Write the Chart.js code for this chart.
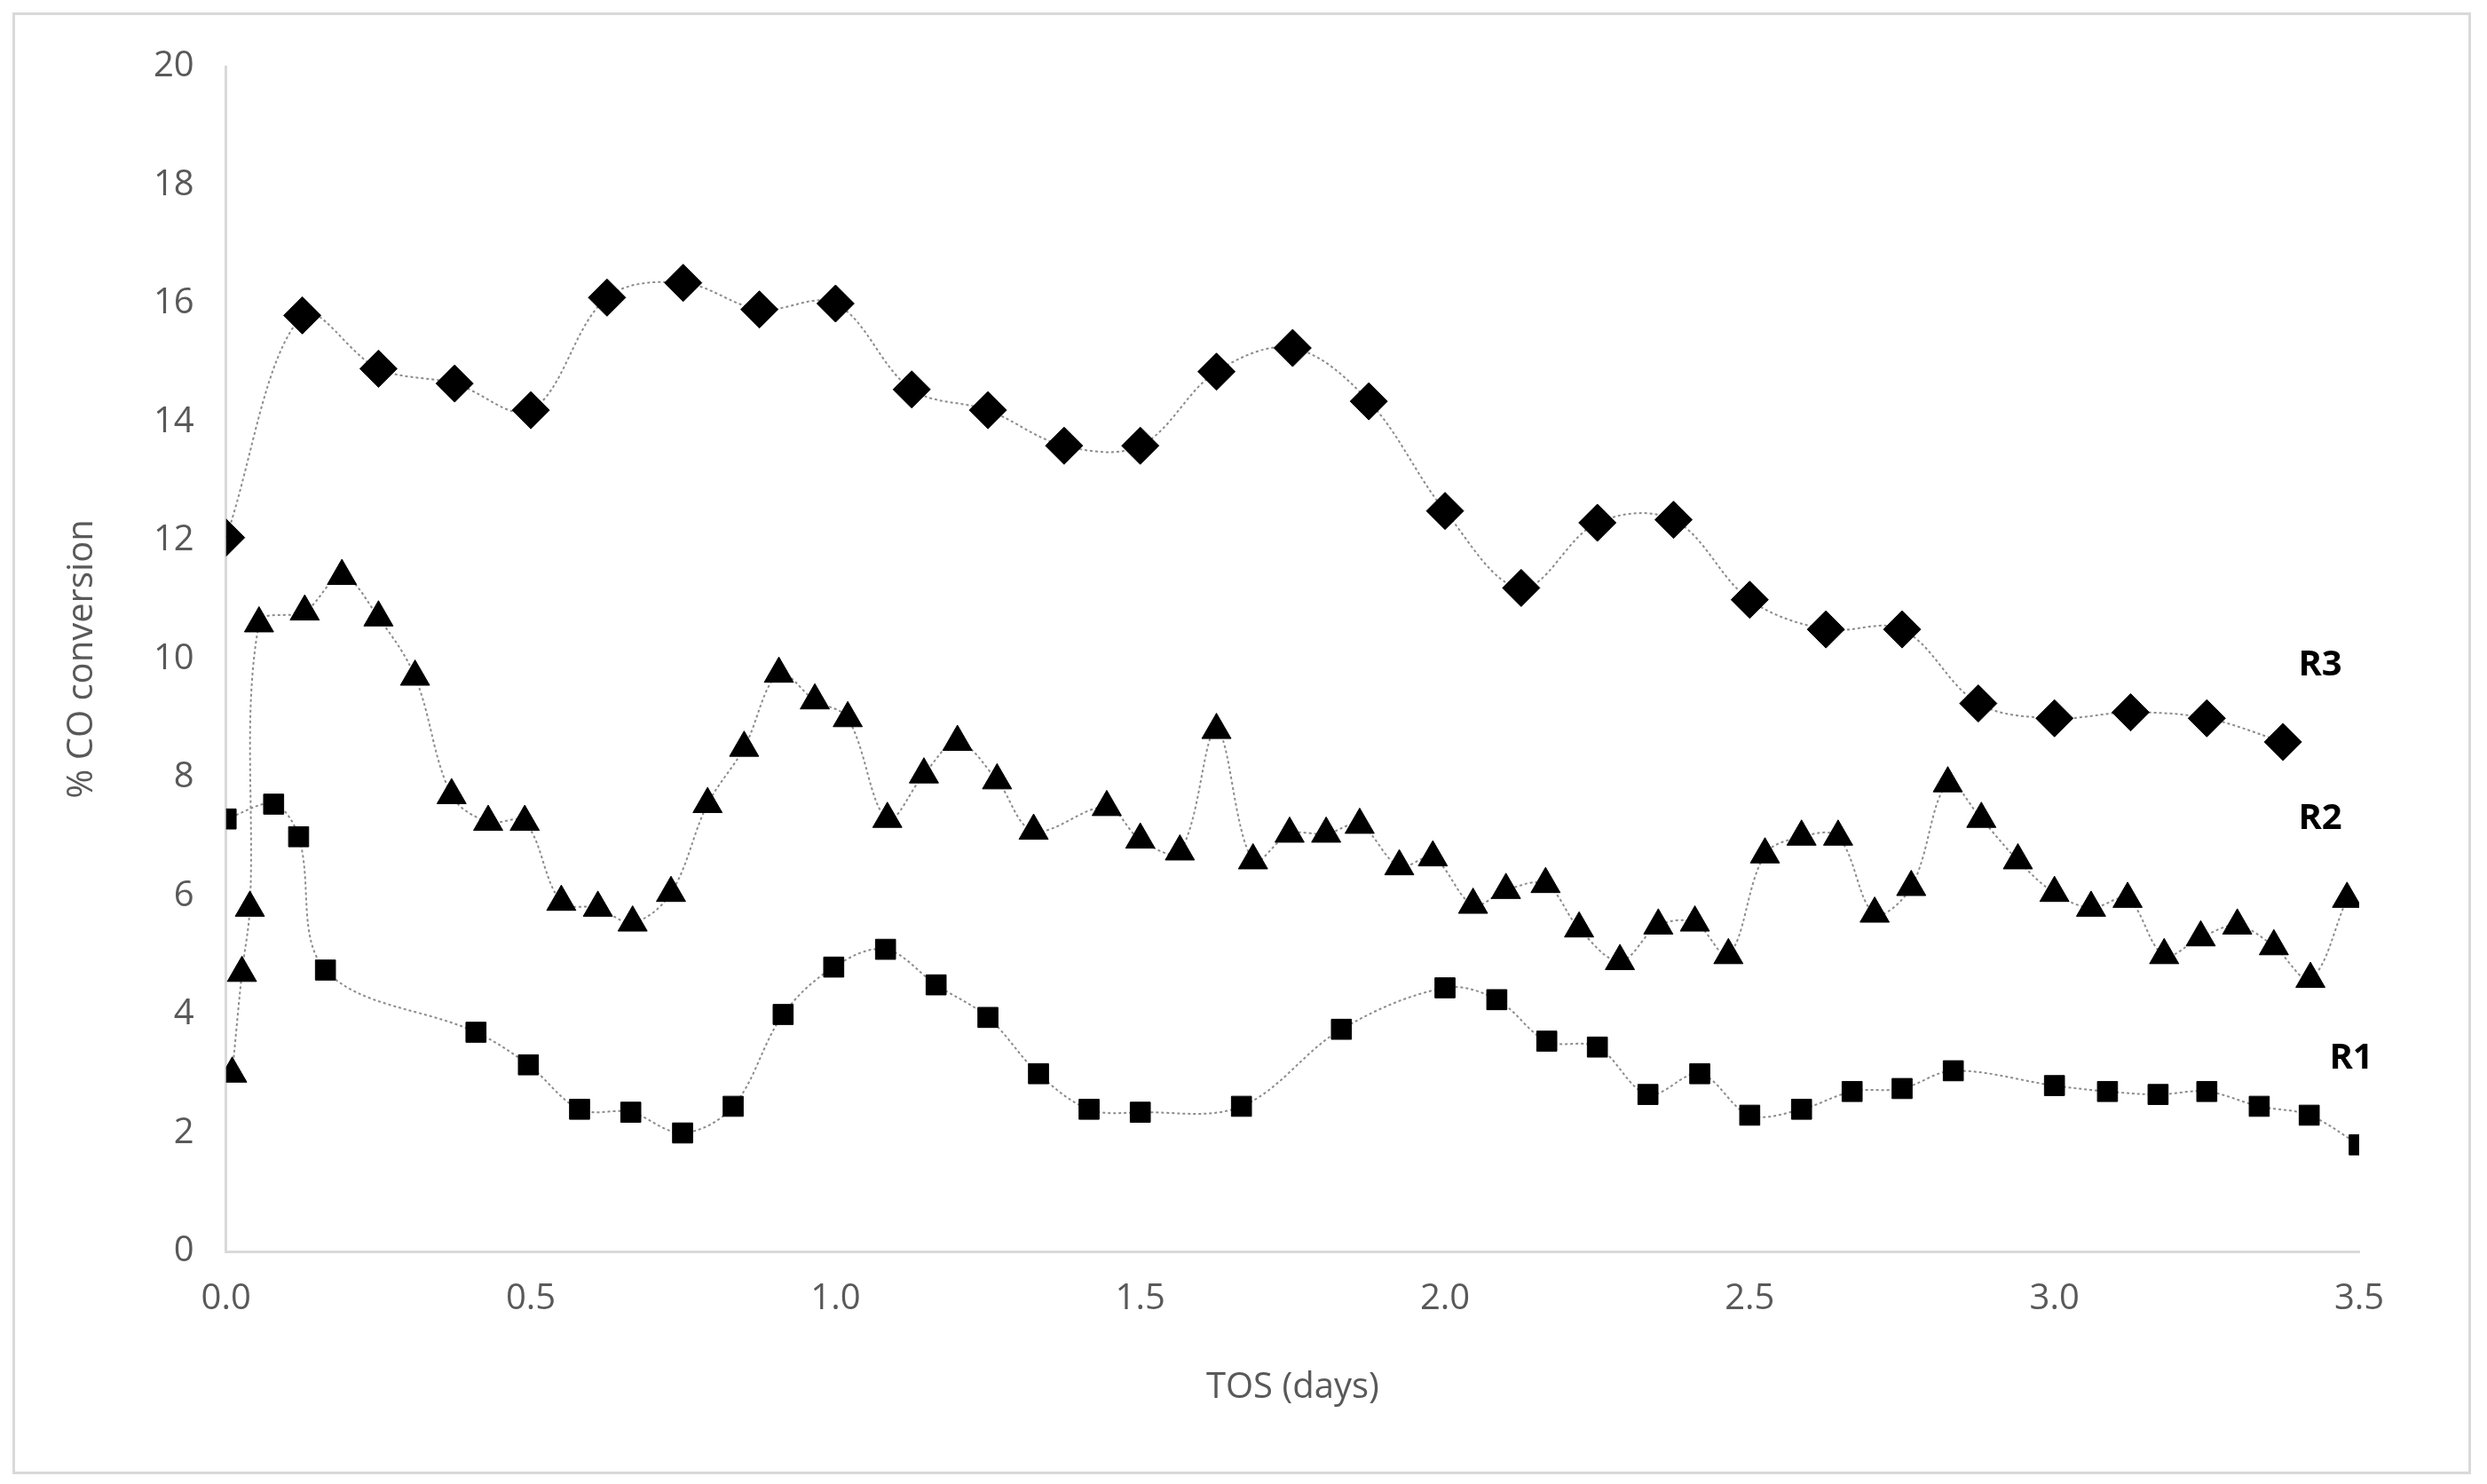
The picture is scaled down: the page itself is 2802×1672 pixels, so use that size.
<!DOCTYPE html>
<html>
<head>
<meta charset="utf-8">
<script src="https://cdn.jsdelivr.net/npm/chart.js@4/dist/chart.umd.min.js"></script>
<style>
  html, body { margin: 0; padding: 0; background: #fff; overflow: hidden; }
  #frame { position: absolute; left: 14px; top: 14px; width: 2770px; height: 1647px; border: 3px solid #d9d9d9; box-sizing: border-box; }
  #chart { position: absolute; left: 0; top: 0; }
</style>
</head>
<body>
<div id="frame"></div>
<canvas id="chart" width="2802" height="1672"></canvas>
<script>
// R3 (diamonds) — sampled every 0.125 day
const r3X = [0, 0.125, 0.25, 0.375, 0.5, 0.625, 0.75, 0.875, 1.0, 1.125, 1.25, 1.375, 1.5, 1.625,
             1.75, 1.875, 2.0, 2.125, 2.25, 2.375, 2.5, 2.625, 2.75, 2.875, 3.0, 3.125, 3.25, 3.375];
const r3Y = [12.05, 15.8, 14.9, 14.65, 14.2, 16.1, 16.35, 15.9, 16.0, 14.55, 14.2, 13.6, 13.6, 14.85,
             15.25, 14.35, 12.5, 11.2, 12.3, 12.35, 11.0, 10.5, 10.5, 9.25, 9.0, 9.1, 9.0, 8.6];

// R2 (triangles)
const r2X = [0.01, 0.026, 0.039, 0.054, 0.129, 0.19, 0.25, 0.31, 0.37, 0.43, 0.49, 0.55, 0.61, 0.667,
             0.73, 0.79, 0.85, 0.907, 0.966, 1.02, 1.085, 1.145, 1.2, 1.265, 1.325, 1.445, 1.5, 1.565,
             1.625, 1.685, 1.745, 1.805, 1.86, 1.925, 1.98, 2.046, 2.1, 2.165, 2.22, 2.287, 2.35, 2.41,
             2.465, 2.525, 2.585, 2.645, 2.705, 2.765, 2.825, 2.88, 2.94, 3.0, 3.06, 3.12, 3.18, 3.24,
             3.3, 3.36, 3.42, 3.48];
const r2Y = [3.0, 4.7, 5.8, 10.6, 10.8, 11.4, 10.7, 9.7, 7.7, 7.25, 7.25, 5.9, 5.8, 5.55,
             6.05, 7.55, 8.5, 9.75, 9.3, 9.0, 7.3, 8.05, 8.6, 7.95, 7.1, 7.5, 6.95, 6.75,
             8.8, 6.6, 7.05, 7.05, 7.2, 6.5, 6.65, 5.85, 6.1, 6.2, 5.45, 4.9, 5.5, 5.55,
             5.0, 6.7, 7.0, 7.0, 5.7, 6.15, 7.9, 7.3, 6.6, 6.05, 5.8, 5.95, 5.0, 5.3,
             5.5, 5.15, 4.6, 5.95];

// R1 (squares)
const r1X = [0, 0.078, 0.119, 0.163, 0.41, 0.496, 0.58, 0.664, 0.749, 0.832, 0.914, 0.997, 1.082,
             1.165, 1.25, 1.333, 1.416, 1.5, 1.666, 1.83, 2.0, 2.085, 2.167, 2.25, 2.333, 2.418, 2.5,
             2.585, 2.668, 2.75, 2.834, 3.0, 3.087, 3.17, 3.25, 3.336, 3.418, 3.5];
const r1Y = [7.3, 7.55, 7.0, 4.75, 3.7, 3.15, 2.4, 2.35, 2.0, 2.45, 4.0, 4.8, 5.1,
             4.5, 3.95, 3.0, 2.4, 2.35, 2.45, 3.75, 4.45, 4.25, 3.55, 3.45, 2.65, 3.0, 2.3,
             2.4, 2.7, 2.75, 3.05, 2.8, 2.7, 2.65, 2.7, 2.45, 2.3, 1.8];

const seriesLabels = ['R1', 'R2', 'R3'];
const labelAnchors = [{ x: 3.487, y: 3.26 }, { x: 3.436, y: 7.3 }, { x: 3.436, y: 9.9 }];

const FONT = '"Open Sans", "Noto Sans", sans-serif';
const toPoints = (xs, ys) => xs.map((x, i) => ({ x, y: ys[i] }));

const series = (data, pointStyle, radius) => ({
    data,
    pointStyle,
    pointRadius: radius,
    pointHoverRadius: radius,
    pointBackgroundColor: '#000',
    pointBorderColor: '#000',
    pointBorderWidth: 1,
    borderColor: '#8c8c8c',
    borderWidth: 2,
    borderDash: [3, 3],
    tension: 0.35,
    showLine: true,
    fill: false,
});

const seriesTags = {
    id: 'seriesTags',
    afterDatasetsDraw(chart) {
        const { ctx, scales: { x, y } } = chart;
        ctx.save();
        ctx.font = `bold 40px ${FONT}`;
        ctx.fillStyle = '#000';
        ctx.textAlign = 'center';
        ctx.textBaseline = 'middle';
        seriesLabels.forEach((t, i) => {
            ctx.fillText(t, x.getPixelForValue(labelAnchors[i].x), y.getPixelForValue(labelAnchors[i].y));
        });
        ctx.restore();
    },
};

new Chart(document.getElementById('chart').getContext('2d'), {
    type: 'scatter',
    data: {
        datasets: [
            series(toPoints(r3X, r3Y), 'rectRot', 21),
            series(toPoints(r2X, r2Y), 'triangle', 19),
            series(toPoints(r1X, r1Y), 'rect', 16),
        ],
    },
    options: {
        responsive: false,
        animation: false,
        devicePixelRatio: 1,
        layout: { padding: { left: 65, right: 144, top: 75, bottom: 80 } },
        scales: {
            x: {
                type: 'linear',
                min: 0,
                max: 3.5,
                grid: { display: false, drawTicks: false },
                border: { color: '#d9d9d9', width: 3 },
                ticks: {
                    stepSize: 0.5,
                    padding: 30,
                    color: '#595959',
                    font: { family: FONT, size: 40 },
                    callback: v => v.toFixed(1),
                },
                title: { display: true, text: 'TOS (days)', color: '#595959', font: { family: FONT, size: 40 }, padding: { top: 22 } },
            },
            y: {
                min: 0,
                max: 20,
                grid: { display: false, drawTicks: false },
                border: { color: '#d9d9d9', width: 3 },
                ticks: { stepSize: 2, padding: 36, color: '#595959', font: { family: FONT, size: 40 } },
                title: { display: true, text: '% CO conversion', color: '#595959', font: { family: FONT, size: 40 }, padding: { bottom: 20 } },
            },
        },
        plugins: { legend: { display: false }, tooltip: { enabled: false } },
    },
    plugins: [seriesTags],
});
</script>
</body>
</html>
